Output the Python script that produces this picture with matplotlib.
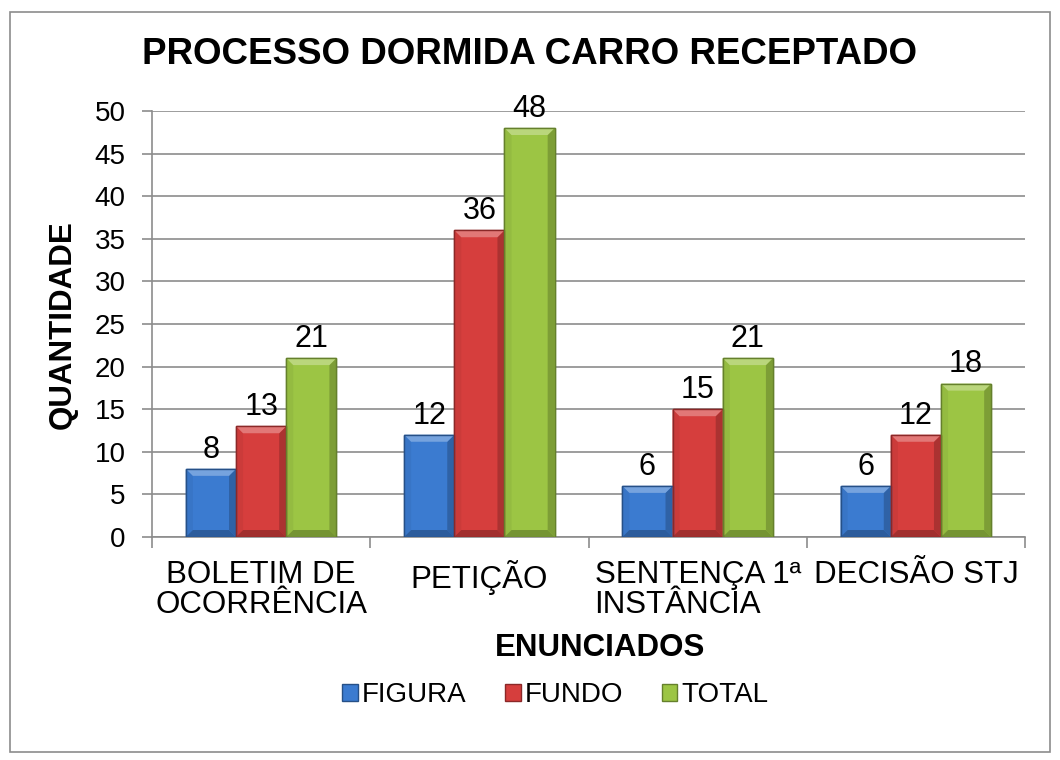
import numpy as np
import matplotlib.pyplot as plt
from matplotlib.patches import Rectangle, Polygon
from matplotlib.colors import to_rgb

categories = ['BOLETIM DE\nOCORRÊNCIA', 'PETIÇÃO', 'SENTENÇA 1ª\nINSTÂNCIA', 'DECISÃO STJ']
series = ['FIGURA', 'FUNDO', 'TOTAL']
figura = [8, 12, 6, 6]
fundo = [13, 36, 15, 12]
total = [21, 48, 21, 18]

colors = ['#3b7bd0', '#d63e3d', '#9cc544']


def shade(c, f):
    r = np.array(to_rgb(c))
    if f > 0:
        return tuple(r + (1 - r) * f)
    return tuple(r * (1 + f))


plt.rcParams['font.family'] = ['Liberation Sans', 'DejaVu Sans']

fig = plt.figure(figsize=(10.6, 7.6), dpi=100)
ax = fig.add_axes([0.1434, 0.2934, 0.8236, 0.5606])

# outer chart border
fig.patches.append(Rectangle((0.009, 0.011), 0.982, 0.973, transform=fig.transFigure,
                             fill=False, edgecolor='#8c8c8c', linewidth=1.2))

x = np.arange(len(categories))
w = 0.23
ymax = 50
# bevel size: ~7 px
bx = w * 0.14
by = 7 * ymax / (0.5606 * 760)

for i, (vals, name) in enumerate(zip([figura, fundo, total], series)):
    pos = x + (i - 1) * w
    c = colors[i]
    ax.bar(pos, vals, width=w, color=c, edgecolor=shade(c, -0.35), linewidth=1.0,
           label=name, zorder=3)
    for p, v in zip(pos, vals):
        x0, x1 = p - w / 2, p + w / 2
        top = [(x0, v), (x1, v), (x1 - bx, v - by), (x0 + bx, v - by)]
        left = [(x0, 0), (x0, v), (x0 + bx, v - by), (x0 + bx, by)]
        right = [(x1, 0), (x1, v), (x1 - bx, v - by), (x1 - bx, by)]
        bottom = [(x0, 0), (x1, 0), (x1 - bx, by), (x0 + bx, by)]
        ax.add_patch(Polygon(top, closed=True, facecolor=shade(c, 0.3), edgecolor='none', zorder=3.5))
        ax.add_patch(Polygon(left, closed=True, facecolor=shade(c, -0.05), edgecolor='none', zorder=3.4))
        ax.add_patch(Polygon(right, closed=True, facecolor=shade(c, -0.2), edgecolor='none', zorder=3.4))
        ax.add_patch(Polygon(bottom, closed=True, facecolor=shade(c, -0.25), edgecolor='none', zorder=3.4))
        ax.add_patch(Rectangle((x0, 0), w, v, fill=False, edgecolor=shade(c, -0.35),
                               linewidth=1.0, zorder=3.6))
        ax.text(p, v + 0.5, str(v), ha='center', va='bottom', fontsize=22, zorder=4)

ax.set_xlim(-0.5, len(categories) - 0.5)
ax.set_ylim(0, ymax)
ax.set_yticks(np.arange(0, 51, 5))
ax.yaxis.grid(True, color='#8c8c8c', linewidth=1.2, zorder=0)
ax.tick_params(axis='y', labelsize=20, length=7, color='#8c8c8c', width=1.2, pad=12)

ax.set_xticks(np.arange(-0.5, len(categories), 1.0))
ax.set_xticklabels([])
ax.tick_params(axis='x', length=8, color='#8c8c8c', width=1.2)
for xi, lab in zip(x, categories):
    ax.text(xi, -2.7, lab, ha='center', va='top', fontsize=22.5,
            multialignment='left' if 'SENTEN' in lab else 'center', linespacing=1.0)

for s in ['top', 'right']:
    ax.spines[s].set_visible(False)
for s in ['left', 'bottom']:
    ax.spines[s].set_color('#8c8c8c')
    ax.spines[s].set_linewidth(1.2)

fig.text(0.5, 0.928, 'PROCESSO DORMIDA CARRO RECEPTADO', ha='center', va='center',
         fontsize=26.5, fontweight='bold')
fig.text(0.059, 0.573, 'QUANTIDADE', ha='center', va='center', rotation=90,
         fontsize=22.5, fontweight='bold')
fig.text(0.566, 0.147, 'ENUNCIADOS', ha='center', va='center', fontsize=22.5, fontweight='bold')

fig.legend(loc='center', bbox_to_anchor=(0.524, 0.085), ncol=3, frameon=False,
           fontsize=20, handlelength=0.55, handleheight=0.55, handletextpad=0.15,
           columnspacing=1.4)

fig.savefig('out.png', dpi=100)
